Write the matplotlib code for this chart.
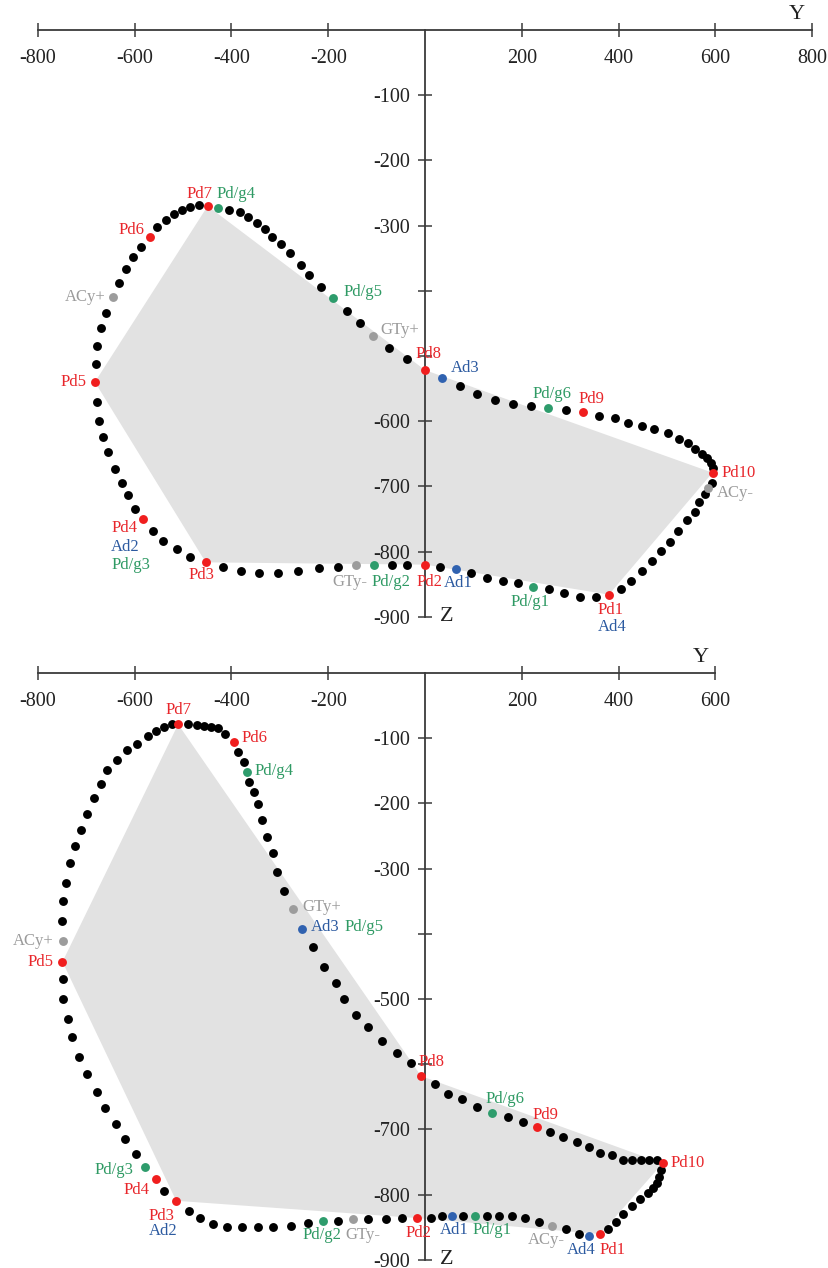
import matplotlib
matplotlib.use('Agg')
import matplotlib.pyplot as plt

plt.rcParams['font.family'] = ['Liberation Serif', 'DejaVu Serif']

# ---------------- upper panel data ----------------
top_y_ticks = [-800, -600, -400, -200, 200, 400, 600, 800]
top_z_ticks = [-100, -200, -300, -400, -500, -600, -700, -800, -900]
top_z_ticklabels = ['-100', '-200', '-300', '', '', '-600', '-700', '-800', '-900']

# plain (black) trajectory points, Y / Z
top_dots_Y = [-677, -673.5, -665, -654, -640, -627, -614, -599,
              -563, -541, -513, -485.5,
              -417, -381, -344, -303, -262, -220, -179,
              -69, -38,
              32,
              95, 128.5, 161, 192,
              257, 288, 321, 354,
              404.5, 426.6, 449, 468, 487.6, 506, 522.7, 540.7, 558, 566, 578.5,
              593.6,
              595.6, 591, 582, 571.7, 558, 542.7, 524.8, 502.7, 473, 447.7, 420, 392.5, 360,
              291.3,
              218.4, 181.2, 144.6, 108, 72.3,
              -37.8, -74.8,
              -134.3, -161.8,
              -215.5, -239, -256.8, -279, -297.5, -315.5, -330.6, -347.7, -365, -382.2, -404.3,
              -467, -485.5, -502.7, -518, -535.7, -554.3,
              -586, -604, -617.7, -631.6,
              -659, -669.4, -678.3, -679.7]
top_dots_Z = [-571, -599, -624, -648, -673, -695, -713, -735,
              -768.5, -784, -796, -808,
              -824, -829.4, -833.4, -833.4, -829.4, -825.8, -823.3,
              -820.7, -820.7,
              -823,
              -833, -840, -845, -848,
              -858, -863.6, -870, -870,
              -858, -845, -830, -814.6, -799, -785, -768.5, -751.7, -739, -724.5, -712,
              -694.4,
              -671.4, -664.7, -657, -650.4, -642.7, -634, -627, -618.7, -612.5, -607.5, -602.4, -595.7, -592,
              -583,
              -576.8, -574.2, -567.6, -558.8, -546,
              -504.2, -488.3,
              -449, -430.6,
              -393.8, -375.8, -361, -341.6, -328.3, -317, -305.3, -295.6, -286.4, -279.7, -276,
              -269, -272, -276, -282, -291.5, -302.7,
              -332.4, -347.8, -366, -387.6,
              -434, -457, -484.7, -512.4]

# named points
top_pt_names = ['Pd1', 'Pd2', 'Pd3', 'Pd4', 'Pd5', 'Pd6', 'Pd7', 'Pd8', 'Pd9', 'Pd10',
                'Ad1', 'Ad3', 'Pd/g1', 'Pd/g2', 'Pd/g4', 'Pd/g5', 'Pd/g6',
                'GTy+', 'GTy-', 'ACy+', 'ACy-']
top_pt_Y = [380, 0, -453, -582, -682, -568, -449, 0, 327, 594,
            64, 36, 224, -105, -427, -189.5, 255,
            -107, -143, -645, 584]
top_pt_Z = [-866, -820, -816.5, -750, -540, -317, -270, -521.6, -586.5, -679,
            -827, -534, -854.5, -821, -273.5, -411.6, -579.4,
            -469.4, -821, -409, -703]

# ---------------- lower panel data ----------------
bot_y_ticks = [-800, -600, -400, -200, 200, 400, 600]
bot_z_ticks = [-100, -200, -300, -400, -500, -600, -700, -800, -900]
bot_z_ticklabels = ['-100', '-200', '-300', '', '-500', '', '-700', '-800', '-900']

bot_dots_Y = [-748.5, -748.5, -738, -730, -715, -698, -678, -661, -638, -620, -597,
              -538.6,
              -487, -465, -437.4, -409.7, -377.5, -345.6, -313.4, -276.8, -241.1,
              -180.4,
              -117.1, -80.6, -48.1,
              11.8, 34.5,
              79.1,
              128.7, 152.9, 180.4, 206.6, 235.5,
              290.7, 318.2,
              377.5, 394.6, 409.7, 428.3, 444.2, 460.1, 471.7, 478.7, 483.4, 487.6,
              478.7, 463.4, 445.6, 427, 408.5, 385.7, 361.6, 339.4, 313.4, 284.5, 258.3,
              203.1, 170.9,
              108, 75.8, 48.1, 20.7,
              -29.5, -58.5, -89.5, -117.1, -143.2, -166.7, -184.5, -208.7, -232,
              -290.7, -305.1, -313.4, -327, -336.1, -345.6, -353.3, -363.6,
              -373.3, -387,
              -413.2, -427, -442.1, -456.6, -471.7, -489,
              -523.3, -538.6, -555.8, -572.9, -595.6, -615, -637, -656.4, -669.4,
              -683.2, -697.7, -710.7, -723.1, -733.4, -742.3, -747.3, -750.6]
bot_dots_Z = [-470, -500.5, -531, -559, -588.6, -615, -642, -667, -691, -714, -737,
              -794.2,
              -825.3, -835.6, -845.2, -850.3, -850.3, -850.3, -850.3, -847.8, -844.2,
              -840.2,
              -838, -838, -836,
              -835.6, -833,
              -833,
              -833, -833, -833, -836.5, -841.7,
              -853.4, -860.6,
              -853.4, -841.7, -830.4, -817.6, -807.3, -797.2, -790.5, -781.9, -772.7, -762.4,
              -747, -747, -747, -747, -747, -739.4, -736.8, -727.6, -719, -712.2, -703.6,
              -688.3, -681.6,
              -666.2, -654, -645.8, -630.5,
              -598.7, -583.4, -564, -543.5, -524.6, -500, -476, -451.5, -420.8,
              -334.4, -304.8, -276.6, -251.1, -225.5, -201.4, -183, -166.7,
              -137, -120.7,
              -93.6, -84.8, -82.4, -81.3, -79.8, -78.2,
              -78.2, -82.4, -88.5, -96.6, -108.9, -118.1, -133.5, -148.8, -170.3,
              -192.2, -216.3, -240.8, -265.4, -291, -321.7, -349.8, -380.4]

bot_pt_names = ['Pd1', 'Pd2', 'Pd3', 'Pd4', 'Pd5', 'Pd6', 'Pd7', 'Pd8', 'Pd9', 'Pd10',
                'Ad1', 'Ad3', 'Ad4', 'Pd/g1', 'Pd/g2', 'Pd/g3', 'Pd/g4', 'Pd/g6',
                'GTy+', 'GTy-', 'ACy+', 'ACy-']
bot_pt_Y = [362, -16.5, -514, -556, -749, -395, -510, -8, 231, 491,
            56, -255, 339, 103, -211, -578.5, -368, 139,
            -272, -149, -748.5, 262]
bot_pt_Z = [-860.6, -836, -809.5, -776.7, -443, -105.4, -78.7, -618.2, -697, -752,
            -833, -393, -863.6, -833, -840, -758.3, -151.4, -675.4,
            -362, -838, -410.6, -848]

# shaded polygon follows these named points
shade_order = ['Pd3', 'Pd5', 'Pd7', 'Pd8', 'Pd10', 'Pd1', 'Pd2']

# ---------------- label layout (text, anchor point, dx px, dy px, ha) ----------------
top_labels = [('Pd7', 'Pd7', -8, 12, 'center'), ('Pd/g4', 'Pd/g4', -2, 14, 'left'),
              ('Pd6', 'Pd6', -6, 7, 'right'), ('ACy+', 'ACy+', -7, 0, 'right'),
              ('Pd5', 'Pd5', -8, 0, 'right'), ('Pd/g5', 'Pd/g5', 10, 6, 'left'),
              ('GTy+', 'GTy+', 7, 6, 'left'), ('Pd8', 'Pd8', 4, 16, 'center'),
              ('Ad3', 'Ad3', 8, 10, 'left'), ('Pd/g6', 'Pd/g6', 4, 14, 'center'),
              ('Pd9', 'Pd9', 8, 13, 'center'), ('Pd10', 'Pd10', 9, 0, 'left'),
              ('ACy-', 'ACy-', 9, -5, 'left'),
              ('Pd4', 'Pd4', -32, -9, 'left'), ('Ad2', 'Pd4', -32, -28, 'left'),
              ('Pd/g3', 'Pd4', -32, -46, 'left'),
              ('Pd3', 'Pd3', -4, -13, 'center'), ('GTy-', 'GTy-', -6, -17, 'center'),
              ('Pd/g2', 'Pd/g2', 17, -17, 'center'), ('Pd2', 'Pd2', 4, -17, 'center'),
              ('Ad1', 'Ad1', 2, -14, 'center'), ('Pd/g1', 'Pd/g1', -3, -15, 'center'),
              ('Pd1', 'Pd1', 2, -15, 'center'), ('Ad4', 'Pd1', 3, -32, 'center')]

bot_labels = [('Pd7', 'Pd7', 0, 14, 'center'), ('Pd6', 'Pd6', 8, 4, 'left'),
              ('Pd/g4', 'Pd/g4', 8, 1, 'left'), ('GTy+', 'GTy+', 9, 2, 'left'),
              ('Ad3', 'Ad3', 9, 2, 'left'), ('Pd/g5', 'Ad3', 43, 2, 'left'),
              ('ACy+', 'ACy+', -9, 0, 'right'), ('Pd5', 'Pd5', -9, 0, 'right'),
              ('Pd8', 'Pd8', 10, 14, 'center'), ('Pd/g6', 'Pd/g6', 13, 14, 'center'),
              ('Pd9', 'Pd9', 9, 12, 'center'), ('Pd10', 'Pd10', 8, 0, 'left'),
              ('Pd2', 'Pd2', 1, -15, 'center'), ('Ad1', 'Ad1', 2, -14, 'center'),
              ('Pd/g1', 'Pd/g1', 17, -14, 'center'), ('ACy-', 'ACy-', -5, -14, 'center'),
              ('Ad4', 'Ad4', -8, -14, 'center'), ('Pd1', 'Pd1', 12, -16, 'center'),
              ('Pd/g3', 'Pd/g3', -12, -3, 'right'), ('Pd4', 'Pd4', -6, -11, 'right'),
              ('Pd3', 'Pd3', -15, -15, 'center'), ('Ad2', 'Pd3', -13, -30, 'center'),
              ('Pd/g2', 'Pd/g2', -1, -14, 'center'), ('GTy-', 'GTy-', 10, -16, 'center')]

AXIS_COLOR = '#3a3a3a'


def dot_color(name):
    if name.startswith('Pd/g'):
        return '#2e9c6c'
    if name.startswith('Pd'):
        return '#f01e1e'
    if name.startswith('Ad'):
        return '#3062b0'
    return '#9c9c9c'


def text_color(name):
    if name.startswith('Pd/g'):
        return '#2f9a64'
    if name.startswith('Pd'):
        return '#e8262b'
    if name.startswith('Ad'):
        return '#2c5aa0'
    return '#9b9b9b'


def draw_panel(ax, y_ticks, z_ticks, z_labels, dots_Y, dots_Z,
               names, pts_Y, pts_Z, labels, ylim):
    ax.set_xlim(-878.1, 834.7)
    ax.set_ylim(*ylim)

    # shaded area
    lookup = dict(zip(names, zip(pts_Y, pts_Z)))
    poly = [lookup[n] for n in shade_order]
    ax.fill([p[0] for p in poly], [p[1] for p in poly],
            color='#e2e2e2', lw=0, zorder=1)

    # cross shaped axes through the origin
    for side in ('top', 'right'):
        ax.spines[side].set_visible(False)
    ax.spines['bottom'].set_position(('data', 0))
    ax.spines['left'].set_position(('data', 0))
    ax.spines['bottom'].set_bounds(y_ticks[0], y_ticks[-1])
    ax.spines['left'].set_bounds(-900, 0)
    for side in ('bottom', 'left'):
        ax.spines[side].set_color(AXIS_COLOR)
        ax.spines[side].set_linewidth(1.3)
    ax.set_xticks(y_ticks)
    ax.set_xticklabels([str(t) for t in y_ticks])
    ax.set_yticks(z_ticks)
    ax.set_yticklabels(z_labels)
    ax.tick_params(direction='inout', length=10, width=1.1, color=AXIS_COLOR,
                   labelsize=14.5, labelcolor='#222222')
    ax.tick_params(axis='x', pad=8.5)
    ax.tick_params(axis='y', pad=6)

    ax.annotate('Y', xy=(y_ticks[-1], 0), xytext=(-15, 15),
                textcoords='offset pixels', ha='center', va='center',
                fontsize=16, color='#222222')
    ax.annotate('Z', xy=(0, -900), xytext=(22, 0),
                textcoords='offset pixels', ha='center', va='center',
                fontsize=16, color='#222222')

    # trajectory
    ax.plot(dots_Y, dots_Z, 'o', color='black', ms=6.4, mew=0, zorder=3)
    for n, y, z in zip(names, pts_Y, pts_Z):
        ax.plot(y, z, 'o', color=dot_color(n), ms=6.4, mew=0, zorder=4)

    for text, anchor, dx, dy, ha in labels:
        ax.annotate(text, xy=lookup[anchor], xytext=(dx, dy),
                    textcoords='offset pixels', ha=ha, va='center',
                    fontsize=12, color=text_color(text), zorder=5)


fig = plt.figure(figsize=(8.29, 12.68), dpi=100)
ax_top = fig.add_axes([0, 0.5, 1, 0.5])
ax_bot = fig.add_axes([0, 0, 1, 0.5])

draw_panel(ax_top, top_y_ticks, top_z_ticks, top_z_ticklabels,
           top_dots_Y, top_dots_Z, top_pt_names, top_pt_Y, top_pt_Z,
           top_labels, (-926.4, 46.0))
draw_panel(ax_bot, bot_y_ticks, bot_z_ticks, bot_z_ticklabels,
           bot_dots_Y, bot_dots_Z, bot_pt_names, bot_pt_Y, bot_pt_Z,
           bot_labels, (-912.6, 59.8))

fig.savefig('out.png', dpi=100)
